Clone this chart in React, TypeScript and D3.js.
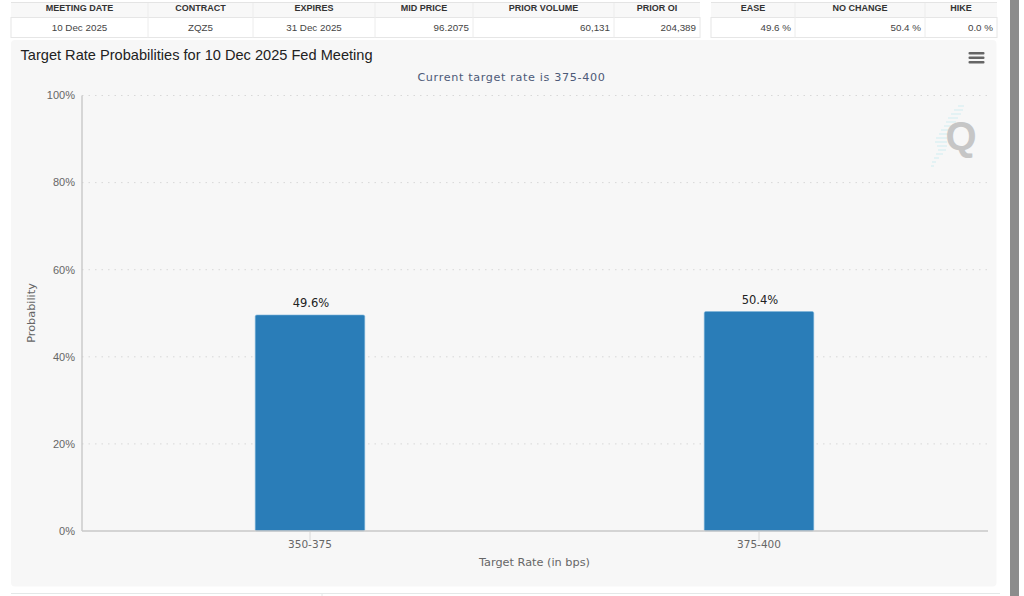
import React from "react";
import * as d3 from "d3";

const categories = ["350-375", "375-400"];
const probabilities = [49.6, 50.4];
const yTicks = [0, 20, 40, 60, 80, 100];
const gridTicks = [20, 40, 60, 80, 100];
const chartTitle = "Target Rate Probabilities for 10 Dec 2025 Fed Meeting";
const chartSubtitle = "Current target rate is 375-400";
const xAxisTitle = "Target Rate (in bps)";
const yAxisTitle = "Probability";

const leftHeaders = ["MEETING DATE", "CONTRACT", "EXPIRES", "MID PRICE", "PRIOR VOLUME", "PRIOR OI"];
const leftValues = ["10 Dec 2025", "ZQZ5", "31 Dec 2025", "96.2075", "60,131", "204,389"];
const leftEdges = [11, 148, 253, 375, 473, 614, 700];
const leftAligns = ["middle", "middle", "middle", "end", "end", "end"];
const rightHeaders = ["EASE", "NO CHANGE", "HIKE"];
const rightValues = ["49.6 %", "50.4 %", "0.0 %"];
const rightEdges = [711, 795, 925, 997];
const rightAligns = ["end", "end", "end"];

const watermarkStripes = [
  [958, 964, 106], [954, 963, 110], [951, 961, 114], [948, 958, 118], [946, 956, 122],
  [944, 953, 126], [941, 950, 130], [939, 948, 134], [936, 947, 138], [935, 947, 142],
  [937, 947, 146], [938, 946, 150], [936, 943, 154], [934, 939, 158], [932, 936, 162], [931, 934, 166],
];

const sans = "'Liberation Sans', Arial, sans-serif";
const deja = "'DejaVu Sans', Verdana, sans-serif";

function Table({ headers, values, edges, aligns }: { headers: string[]; values: string[]; edges: number[]; aligns: string[] }) {
  const top = 3;
  const mid = 17.5;
  const bottom = 37.5;
  return (
    <g>
      <rect x={edges[0]} y={top} width={edges[edges.length - 1] - edges[0]} height={mid - top} fill="#f8f8f8" />
      <rect x={edges[0]} y={mid} width={edges[edges.length - 1] - edges[0]} height={bottom - mid} fill="#ffffff" stroke="#e6e6e6" />
      <line x1={edges[0]} x2={edges[edges.length - 1]} y1={2.5} y2={2.5} stroke="#e4e4e4" />
      {edges.slice(1, -1).map((e) => (
        <line key={e} x1={e} x2={e} y1={top} y2={bottom} stroke="#ececec" />
      ))}
      {headers.map((h, i) => (
        <text key={h} x={(edges[i] + edges[i + 1]) / 2} y={11} textAnchor="middle" fontFamily={sans} fontWeight="bold" fontSize={9} fill="#333">
          {h}
        </text>
      ))}
      {values.map((v, i) => {
        const anchor = aligns[i];
        const x = anchor === "end" ? edges[i + 1] - 4 : (edges[i] + edges[i + 1]) / 2;
        return (
          <text key={v} x={x} y={30.5} textAnchor={anchor as any} fontFamily={sans} fontSize={9.8} fill="#444">
            {v}
          </text>
        );
      })}
    </g>
  );
}

export default function App() {
  const x = d3.scaleBand<string>().domain(categories).range([85.5, 983.5]).paddingInner(0).paddingOuter(0);
  const y = d3.scaleLinear().domain([0, 100]).range([531, 95.5]);
  const barW = x.bandwidth() * 0.244;

  return (
    <svg width={1024} height={596} style={{ position: "absolute", left: 0, top: 0, background: "#fff", display: "block" }}>
      <Table headers={leftHeaders} values={leftValues} edges={leftEdges} aligns={leftAligns} />
      <Table headers={rightHeaders} values={rightValues} edges={rightEdges} aligns={rightAligns} />

      <rect x={11} y={40} width={985.5} height={546.5} rx={4} fill="#f7f7f7" />
      <rect x={1010} y={0} width={9} height={596} fill="#8c8c8c" />
      <line x1={11} x2={1000} y1={593.5} y2={593.5} stroke="#e4e8e8" />
      <line x1={322} x2={322} y1={593.5} y2={596} stroke="#e4e8e8" />

      <text x={20.5} y={60.3} fontFamily={sans} fontSize={14.6} fill="#222">{chartTitle}</text>
      <text x={511.5} y={81} textAnchor="middle" fontFamily={deja} fontSize={11.2} fill="#4d5a78" letterSpacing={0.65}>{chartSubtitle}</text>

      <g fill="#666">
        {[0, 1, 2].map((i) => (
          <rect key={i} x={968.5} y={52 + i * 4.5} width={16} height={2.6} rx={1} />
        ))}
      </g>

      <g stroke="#c9ecf0" strokeWidth={1.2} opacity={0.7}>
        {watermarkStripes.map(([a, b, yy]) => (
          <line key={yy} x1={a} x2={b} y1={yy} y2={yy} />
        ))}
      </g>
      <text x={961} y={150} textAnchor="middle" fontFamily={sans} fontWeight="bold" fontSize={40} fill="#c6c6c6">Q</text>

      {gridTicks.map((t) => (
        <line key={t} x1={82} x2={988} y1={y(t)} y2={y(t)} stroke="#d8d8d8" strokeDasharray="1.5 5" />
      ))}

      <line x1={82} x2={82} y1={95.5} y2={531} stroke="#c8c8c8" strokeWidth={1.4} />
      {yTicks.map((t) => (
        <text key={t} x={75} y={y(t) + 3.8} textAnchor="end" fontFamily={sans} fontSize={11} fill="#666">{t}%</text>
      ))}

      {categories.map((c, i) => {
        const cx = (x(c) as number) + x.bandwidth() / 2;
        const top = y(probabilities[i]);
        return (
          <g key={c}>
            <rect x={cx - barW / 2} y={top} width={barW} height={y(0) - top} rx={1.5} fill="#2a7db8" stroke="#7db6da" strokeWidth={0.6} />
            <text x={cx + 1} y={top - 8} textAnchor="middle" fontFamily={deja} fontSize={11.5} fill="#222">{probabilities[i]}%</text>
            <line x1={cx} x2={cx} y1={531} y2={541} stroke="#d8d8d8" />
            <text x={cx} y={548} textAnchor="middle" fontFamily={deja} fontSize={10.5} fill="#666">{c}</text>
          </g>
        );
      })}
      <line x1={82} x2={988} y1={531} y2={531} stroke="#c8c8c8" strokeWidth={1.4} />

      <text x={534.5} y={566} textAnchor="middle" fontFamily={deja} fontSize={11.3} fill="#666">{xAxisTitle}</text>
      <text transform="translate(35,313) rotate(-90)" textAnchor="middle" fontFamily={deja} fontSize={11.3} fill="#666">{yAxisTitle}</text>
    </svg>
  );
}
